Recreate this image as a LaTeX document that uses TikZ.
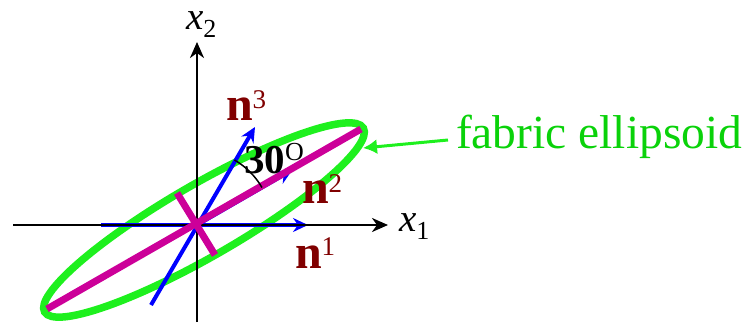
\documentclass[tikz,border=0pt]{standalone}
\usepackage{fontspec}
\setmainfont{Liberation Serif}
\usetikzlibrary{arrows.meta,calc}
\definecolor{egreen}{RGB}{30,240,30}
\definecolor{tgreen}{RGB}{10,210,10}
\definecolor{magc}{RGB}{204,0,153}
\definecolor{dred}{RGB}{128,0,0}
\newcommand{\vecnlbl}[2]{{\fontsize{48}{48}\selectfont\bfseries n}\raisebox{#2}{\fontsize{27}{27}\selectfont #1}}
\newcommand{\axlbl}[1]{{\fontsize{39}{39}\selectfont\itshape x}\raisebox{-8pt}{\fontsize{26}{26}\selectfont #1}}
\begin{document}
\begin{tikzpicture}[x=1pt,y=1pt,
  axisline/.style={line width=2.5pt,black,-{Stealth[length=16pt,width=14pt,inset=5pt]}},
  bluevec/.style={line width=4pt,blue,-{Stealth[length=15pt,width=14pt,inset=5pt]}},
  magline/.style={line width=7pt,magc},
  ellline/.style={line width=7.5pt,egreen},
  lbl/.style={anchor=base west,inner sep=0pt,outer sep=0pt},
  vlbl/.style={lbl,text=dred}]
\useasboundingbox (0,0) rectangle (755,322);
% coordinates
\coordinate (O) at (197,97);
\coordinate (C) at (204,102);
\coordinate (XL) at (13,97);
\coordinate (XR) at (388,97);
\coordinate (YB) at (197,0);
\coordinate (YT) at (197,280);
\coordinate (N1a) at (101,97);
\coordinate (N1b) at (308,97);
\coordinate (N2b) at (292.3,152);
\coordinate (N3a) at (151,17);
\coordinate (N3b) at (255,195);
\coordinate (M1) at (47,13);
\coordinate (M2) at (361,193);
\coordinate (P1) at (177,129);
\coordinate (P2) at (215,67);
% ellipse
\draw[ellline,rotate around={30:(C)}] (C) ellipse[x radius=184pt,y radius=36pt];
% blue vectors
\draw[bluevec] (N1a) -- (N1b);
\draw[bluevec] (N3a) -- (N3b);
\draw[bluevec] (O) -- (N2b);
% axes
\draw[axisline] (XL) -- (XR);
\draw[axisline] (YB) -- (YT);
% magenta
\draw[magline] (M1) -- (M2);
\draw[magline] (P1) -- (P2);
% angle arc
\draw[line width=1.5pt,black] (O) ++(30:75) arc[start angle=30,end angle=60,radius=75pt];
% labels
\node[lbl] (lx2) at (186,292) {\axlbl{2}};
\node[lbl] (lx1) at (399,91) {\axlbl{1}};
\node[vlbl] (ln3) at (226,202) {\vecnlbl{3}{12pt}};
\node[vlbl] (ln2) at (302,119) {\vecnlbl{2}{11pt}};
\node[vlbl] (ln1) at (295,54) {\vecnlbl{1}{13pt}};
\node[lbl] (l30) at (244,149) {{\fontsize{41}{41}\selectfont\bfseries 30}\raisebox{13pt}{\fontsize{26}{26}\selectfont O}};
\node[lbl,text=tgreen] (lfab) at (456,174) {\fontsize{47.5}{47.5}\selectfont fabric ellipsoid};
% callout
\coordinate (Ct) at (448,182);
\coordinate (Ch) at (363,174);
\draw[line width=3pt,egreen,-{Latex[length=14pt,width=15pt]}] (Ct) -- (Ch);
\end{tikzpicture}
\end{document}
